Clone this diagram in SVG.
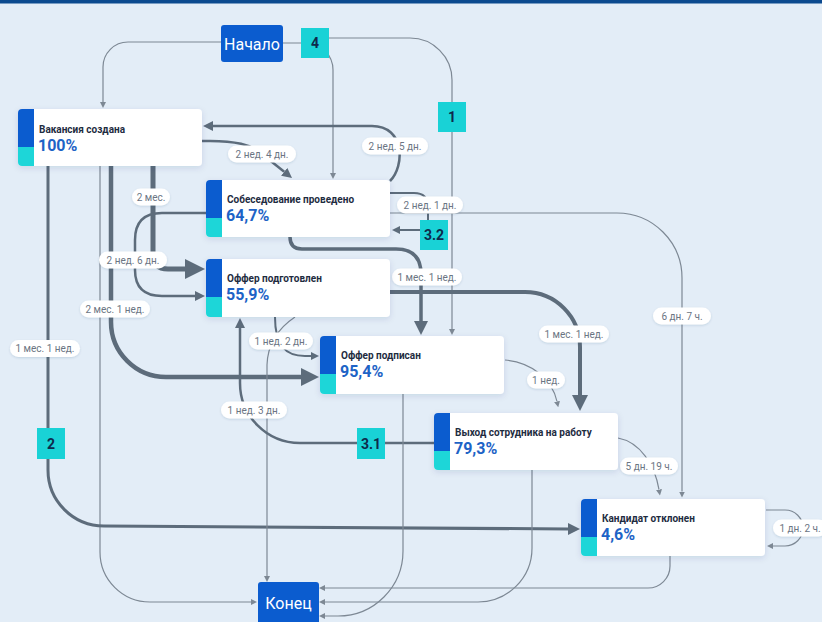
<svg xmlns="http://www.w3.org/2000/svg" width="822" height="622" viewBox="0 0 822 622">
<defs>
<style>
.bg{fill:#e3edf7}
.c{fill:none;stroke:#5d6c7b;stroke-linecap:butt;stroke-linejoin:round}
.t{fill:none;stroke:#7d8894;stroke-width:1.2}
.pill rect{fill:#ffffff;filter:url(#ps)}
.pill text{font-family:Roboto,"Liberation Sans",sans-serif;font-size:10px;fill:#6b7583;text-anchor:middle}
.num rect{fill:#19d2d6}
.num text{font-family:Roboto,"Liberation Sans",sans-serif;font-size:14px;font-weight:bold;fill:#0e2a4c;text-anchor:middle}
.card{fill:#ffffff;filter:url(#cs)}
.bar1{fill:#0b5ccf}
.bar2{fill:#1dd6d8}
.ttl{font-family:Roboto,"Liberation Sans",sans-serif;font-size:10px;font-weight:bold;fill:#1e2c3f}
.pct{font-family:Roboto,"Liberation Sans",sans-serif;font-size:16px;font-weight:bold;fill:#1d63c6}
.term{fill:#0b5ccf}
.termt{font-family:Roboto,"Liberation Sans",sans-serif;font-size:16px;fill:#ffffff;text-anchor:middle}
</style>
<filter id="cs" x="-10%" y="-20%" width="120%" height="150%"><feDropShadow dx="0" dy="2" stdDeviation="3" flood-color="#1b3a66" flood-opacity="0.12"/></filter>
<filter id="ps" x="-20%" y="-30%" width="140%" height="170%"><feDropShadow dx="0" dy="1" stdDeviation="1.2" flood-color="#1b3a66" flood-opacity="0.15"/></filter>
<marker id="ah" viewBox="0 0 10 10" refX="0" refY="5" markerWidth="4" markerHeight="4" orient="auto" markerUnits="strokeWidth"><path d="M0,0 L10,5 L0,10 z" fill="#5d6c7b"/></marker>
<marker id="at" viewBox="0 0 10 10" refX="0" refY="5" markerWidth="5" markerHeight="5" orient="auto" markerUnits="strokeWidth"><path d="M0,0 L10,5 L0,10 z" fill="#7d8894"/></marker>
</defs>
<rect class="bg" x="0" y="0" width="822" height="622"/>
<rect x="0" y="0" width="822" height="3.5" fill="#0b4a8f"/>

<g id="connectors">
<path class="t" d="M221,42 H128 A25,25 0 0 0 103,67 V102" marker-end="url(#at)"/>
<path class="t" d="M283,43 H306 A27,27 0 0 1 333,70 V173" marker-end="url(#at)"/>
<path class="t" d="M310,38 H410 A42,42 0 0 1 452,80 V329" marker-end="url(#at)"/>
<path class="c" stroke-width="2.5" d="M202,141 C236,140 252,145 262,154 L284.2,171.8" marker-end="url(#ah)"/>
<path class="c" stroke-width="2.5" d="M390,181 C405,166 405,126 372,126 H213" marker-end="url(#ah)"/>
<path class="c" stroke-width="3.5" d="M290,237 Q290,249 302,249 H396 Q421,249 421,274 V321" marker-end="url(#ah)"/>
<path class="t" stroke-width="1.3" d="M390,213 H617 A65,65 0 0 1 682,278 V491.5" marker-end="url(#at)"/>
<path class="c" stroke-width="2" d="M390,193 H414 Q428,193 428,207 V224 Q428,230 420,230 H400" marker-end="url(#ah)"/>
<path class="c" stroke-width="5" d="M153,166 V254 Q153,269 168,269 H185" marker-end="url(#ah)"/>
<path class="c" stroke-width="2.5" d="M206,213 H162 Q135,213 135,240 V270 Q135,296 162,296 H195" marker-end="url(#ah)"/>
<path class="c" stroke-width="4.5" d="M111,166 V322 A55,55 0 0 0 166,377 H301" marker-end="url(#ah)"/>
<path class="t" d="M100,166 V552 A50,50 0 0 0 150,602 H251" marker-end="url(#at)"/>
<path class="c" stroke-width="3" d="M48,166 V470 A56,56 0 0 0 104,526 L568,529" marker-end="url(#ah)"/>
<path class="c" stroke-width="4" d="M390,292 H525 A55,55 0 0 1 580,347 V395" marker-end="url(#ah)"/>
<path class="c" stroke-width="2" d="M275,317 C275,345 285,356 305,356 H311" marker-end="url(#ah)"/>
<path class="t" d="M295,317 Q268,335 267,365 V576" marker-end="url(#at)"/>
<path class="c" stroke-width="2.5" d="M434,443 H300 A60,60 0 0 1 240,383 V328" marker-end="url(#ah)"/>
<path class="t" stroke-width="1.5" d="M505,360 C530,362 552,378 557,401.5" marker-end="url(#at)"/>
<path class="t" d="M403,394 V551 A65,65 0 0 1 338,616 H325" marker-end="url(#at)"/>
<path class="t" d="M532,470 V548 A54,54 0 0 1 478,602 H325" marker-end="url(#at)"/>
<path class="t" d="M670,556 V566 A22,22 0 0 1 648,588 H325" marker-end="url(#at)"/>
<path class="t" stroke-width="1.5" d="M618,438 C640,442 655,465 659,489.6" marker-end="url(#at)"/>
<path class="t" d="M766,510 H785 A18,18 0 0 1 803,528 A18,18 0 0 1 785,546 H773" marker-end="url(#at)"/>

<g class="pill"><rect x="228" y="145.5" width="68" height="17" rx="8.5"/><text x="262" y="157.5">2 нед. 4 дн.</text></g>
<g class="pill"><rect x="362" y="137.5" width="66" height="17" rx="8.5"/><text x="395" y="149.5">2 нед. 5 дн.</text></g>
<g class="pill"><rect x="132" y="188.5" width="38" height="17" rx="8.5"/><text x="151" y="200.5">2 мес.</text></g>
<g class="pill"><rect x="99" y="251.5" width="68" height="17" rx="8.5"/><text x="133" y="263.5">2 нед. 6 дн.</text></g>
<g class="pill"><rect x="80" y="300.5" width="70" height="17" rx="8.5"/><text x="115" y="312.5">2 мес. 1 нед.</text></g>
<g class="pill"><rect x="10" y="340" width="70" height="17" rx="8.5"/><text x="45" y="352">1 мес. 1 нед.</text></g>
<g class="pill"><rect x="397" y="196.5" width="66" height="17" rx="8.5"/><text x="430" y="208.5">2 нед. 1 дн.</text></g>
<g class="pill"><rect x="392" y="268.5" width="70" height="17" rx="8.5"/><text x="427" y="280.5">1 мес. 1 нед.</text></g>
<g class="pill"><rect x="653" y="307.5" width="58" height="17" rx="8.5"/><text x="682" y="319.5">6 дн. 7 ч.</text></g>
<g class="pill"><rect x="539" y="325.5" width="70" height="17" rx="8.5"/><text x="574" y="337.5">1 мес. 1 нед.</text></g>
<g class="pill"><rect x="249" y="332.5" width="64" height="17" rx="8.5"/><text x="281" y="344.5">1 нед. 2 дн.</text></g>
<g class="pill"><rect x="527" y="371.5" width="38" height="17" rx="8.5"/><text x="546" y="383.5">1 нед.</text></g>
<g class="pill"><rect x="221" y="401.5" width="66" height="17" rx="8.5"/><text x="254" y="413.5">1 нед. 3 дн.</text></g>
<g class="pill"><rect x="620" y="457.5" width="58" height="17" rx="8.5"/><text x="649" y="469.5">5 дн. 19 ч.</text></g>
<g class="pill"><rect x="773" y="519.5" width="54" height="17" rx="8.5"/><text x="800" y="531.5">1 дн. 2 ч.</text></g>

<g class="num"><rect x="301" y="28" width="28" height="30"/><text x="315" y="48">4</text></g>
<g class="num"><rect x="438" y="102" width="28" height="30"/><text x="452" y="122">1</text></g>
<g class="num"><rect x="420" y="220" width="28" height="30"/><text x="434" y="240">3.2</text></g>
<g class="num"><rect x="357" y="428" width="28" height="31"/><text x="371" y="448.5">3.1</text></g>
<g class="num"><rect x="37" y="428" width="28" height="31"/><text x="51" y="448.5">2</text></g>
</g>

<g id="start"><rect class="term" x="221" y="25" width="62" height="37" rx="3"/><text class="termt" x="252" y="49.5">Начало</text></g>
<g id="end"><rect class="term" x="258" y="582" width="61" height="44" rx="3"/><text class="termt" x="288.5" y="609">Конец</text></g>

<g id="n-vacancy"><rect class="card" x="18" y="109" width="184" height="57" rx="4"/><path class="bar1" d="M22,109 H34 V147 H18 V113 A4,4 0 0 1 22,109 z"/><path class="bar2" d="M18,147 H34 V166 H22 A4,4 0 0 1 18,162 z"/><text class="ttl" x="39" y="133">Вакансия создана</text><text class="pct" x="38" y="151">100%</text></g>
<g id="n-interview"><rect class="card" x="206" y="180" width="184" height="57" rx="4"/><path class="bar1" d="M210,180 H222 V218 H206 V184 A4,4 0 0 1 210,180 z"/><path class="bar2" d="M206,218 H222 V237 H210 A4,4 0 0 1 206,233 z"/><text class="ttl" x="227" y="203">Собеседование проведено</text><text class="pct" x="226" y="221">64,7%</text></g>
<g id="n-offer-ready"><rect class="card" x="206" y="259" width="184" height="58" rx="4"/><path class="bar1" d="M210,259 H222 V297 H206 V263 A4,4 0 0 1 210,259 z"/><path class="bar2" d="M206,297 H222 V317 H210 A4,4 0 0 1 206,313 z"/><text class="ttl" x="227" y="282">Оффер подготовлен</text><text class="pct" x="226" y="300">55,9%</text></g>
<g id="n-offer-signed"><rect class="card" x="320" y="336" width="184" height="58" rx="4"/><path class="bar1" d="M324,336 H336 V374 H320 V340 A4,4 0 0 1 324,336 z"/><path class="bar2" d="M320,374 H336 V394 H324 A4,4 0 0 1 320,390 z"/><text class="ttl" x="341" y="359">Оффер подписан</text><text class="pct" x="340" y="377">95,4%</text></g>
<g id="n-start-work"><rect class="card" x="434" y="413" width="184" height="57" rx="4"/><path class="bar1" d="M438,413 H450 V451 H434 V417 A4,4 0 0 1 438,413 z"/><path class="bar2" d="M434,451 H450 V470 H438 A4,4 0 0 1 434,466 z"/><text class="ttl" x="455" y="436">Выход сотрудника на работу</text><text class="pct" x="454" y="454">79,3%</text></g>
<g id="n-rejected"><rect class="card" x="581" y="499" width="184" height="57" rx="4"/><path class="bar1" d="M585,499 H597 V537 H581 V503 A4,4 0 0 1 585,499 z"/><path class="bar2" d="M581,537 H597 V556 H585 A4,4 0 0 1 581,552 z"/><text class="ttl" x="602" y="522">Кандидат отклонен</text><text class="pct" x="601" y="540">4,6%</text></g>
</svg>
